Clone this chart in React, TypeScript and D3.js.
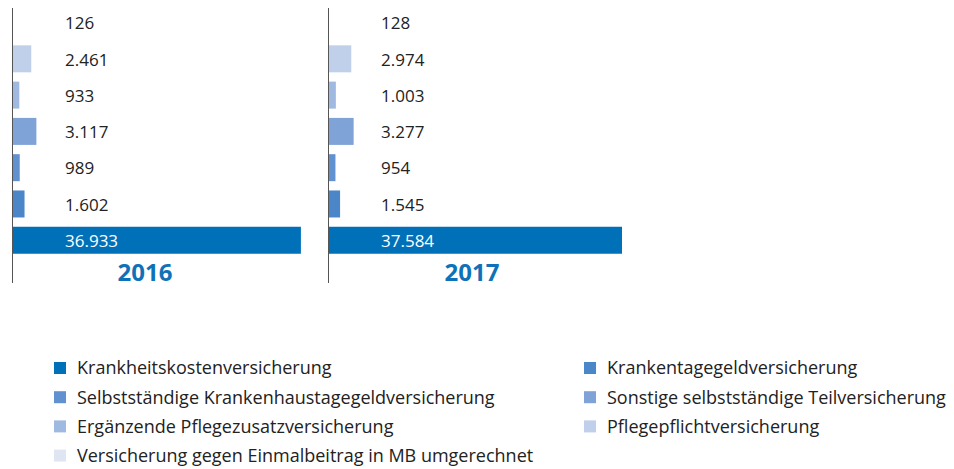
import React, { useEffect, useRef } from "react";
import * as d3 from "d3";

// rows from top to bottom
const categories = [
  "Versicherung gegen Einmalbeitrag in MB umgerechnet",
  "Pflegepflichtversicherung",
  "Ergänzende Pflegezusatzversicherung",
  "Sonstige selbstständige Teilversicherung",
  "Selbstständige Krankenhaustagegeldversicherung",
  "Krankentagegeldversicherung",
  "Krankheitskostenversicherung",
];
const colors = ["#dfe6f2", "#c0d0ea", "#9fb9e0", "#7fa3d6", "#6192cf", "#4a86c8", "#0071b9"];
const years = ["2016", "2017"];
const values2016 = [126, 2461, 933, 3117, 989, 1602, 36933];
const values2017 = [128, 2974, 1003, 3277, 954, 1545, 37584];
const seriesValues = [values2016, values2017];

// legend goes left column then right column, reading bottom bar first
const legendOrder = [
  "Krankheitskostenversicherung",
  "Krankentagegeldversicherung",
  "Selbstständige Krankenhaustagegeldversicherung",
  "Sonstige selbstständige Teilversicherung",
  "Ergänzende Pflegezusatzversicherung",
  "Pflegepflichtversicherung",
  "Versicherung gegen Einmalbeitrag in MB umgerechnet",
];

const App = () => {
  const svgRef = useRef<SVGSVGElement>(null);

  useEffect(() => {
    const svg = d3.select(svgRef.current);
    svg.selectAll("*").remove();
    const font = "'Open Sans', sans-serif";
    const de = d3.formatLocale({ decimal: ",", thousands: ".", grouping: [3], currency: ["", " €"] });
    const fmt = de.format(",d");

    const y = d3.scaleBand().domain(categories).range([4.4, 258.4]).paddingInner(0.256).paddingOuter(0.128);
    const x = d3.scaleLinear().domain([0, 37584]).range([0, 294]);
    const panelX = [12, 328];
    const yearCenter = [145, 472];

    seriesValues.forEach((vals, i) => {
      const g = svg.append("g").attr("transform", `translate(${panelX[i]},0)`);
      g.selectAll("rect")
        .data(vals)
        .join("rect")
        .attr("x", 0)
        .attr("y", (d, j) => y(categories[j])!)
        .attr("width", (d) => x(d))
        .attr("height", y.bandwidth())
        .attr("fill", (d, j) => colors[j]);

      g.append("line")
        .attr("x1", 0.5).attr("x2", 0.5)
        .attr("y1", 8).attr("y2", 283)
        .attr("stroke", "#555").attr("stroke-width", 1);

      g.selectAll("text.val")
        .data(vals)
        .join("text")
        .attr("class", "val")
        .attr("x", 53)
        .attr("y", (d, j) => y(categories[j])! + y.bandwidth() / 2)
        .attr("dy", "0.4em")
        .style("font-family", font)
        .style("font-size", "17px")
        .style("fill", (d, j) => (j === vals.length - 1 ? "#fff" : "#222"))
        .text((d) => fmt(d));

      svg.append("text")
        .attr("x", yearCenter[i])
        .attr("y", 281)
        .attr("text-anchor", "middle")
        .style("font-family", font)
        .style("font-size", "24px")
        .style("font-weight", "bold")
        .style("fill", "#0f72b8")
        .text(years[i]);
    });

    const legend = svg.append("g");
    legendOrder.forEach((name, k) => {
      const col = k % 2;
      const row = Math.floor(k / 2);
      const lx = col === 0 ? 54 : 584;
      const ly = 368 + row * 29.2;
      const color = colors[categories.indexOf(name)];
      legend.append("rect")
        .attr("x", lx).attr("y", ly - 6)
        .attr("width", 12).attr("height", 12)
        .attr("fill", color);
      legend.append("text")
        .attr("x", lx + 23).attr("y", ly)
        .attr("dy", "0.35em")
        .style("font-family", font)
        .style("font-size", "18px")
        .style("fill", "#222")
        .text(name);
    });
  }, []);

  return (
    <div style={{ position: "absolute", left: 0, top: 0 }}>
      <svg ref={svgRef} width={954} height={469} style={{ display: "block", background: "#fff" }}></svg>
    </div>
  );
};

export default App;
